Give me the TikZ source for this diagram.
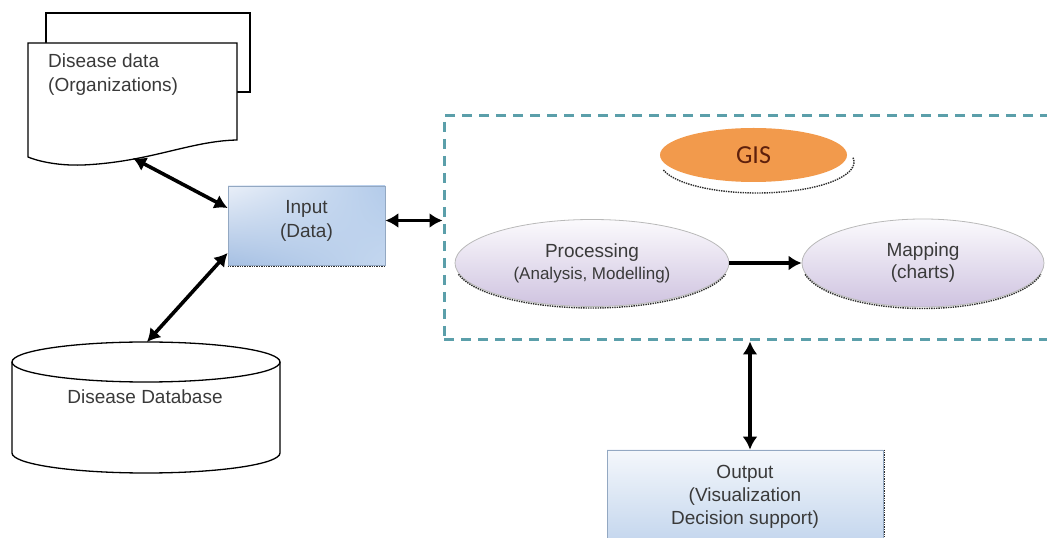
\documentclass[tikz,border=0pt]{standalone}
\usepackage{fontspec}
\setmainfont{Liberation Sans}
\newfontfamily\gisfont{Carlito}
\usetikzlibrary{arrows.meta,shapes.geometric,shadings}

\definecolor{txt}{HTML}{3A3A3A}
\definecolor{gisteal}{HTML}{5B9FAA}
\definecolor{gisorange}{HTML}{F29A4C}
\definecolor{gisbrown}{HTML}{5E200C}
\definecolor{boxedge}{HTML}{93A8C2}
\definecolor{ovaltop}{HTML}{FBFAFD}
\definecolor{ovalbot}{HTML}{CFC3E0}
\definecolor{inUL}{HTML}{E9EFF8}
\definecolor{inUR}{HTML}{B3CBEA}
\definecolor{inLL}{HTML}{A6C0E3}
\definecolor{inLR}{HTML}{C4D7EF}
\definecolor{outtop}{HTML}{F4F7FB}
\definecolor{outbot}{HTML}{C5D7EE}

\begin{document}
\begin{tikzpicture}[x=1pt,y=1pt,
  every node/.style={text=txt, font=\fontsize{19}{24}\selectfont, align=center},
  link/.style={line width=3.6pt, draw=black},
  twoway/.style={link, {Latex[length=13pt,width=15pt]}-{Latex[length=13pt,width=15pt]}},
  oneway/.style={link, -{Latex[length=13pt,width=15pt]}},
  outline/.style={draw=black, line width=1.3pt},
  oval/.style={ellipse, draw=gray!55, line width=0.8pt, top color=ovaltop,
    bottom color=ovalbot, inner sep=0pt, font=\fontsize{19}{22}\selectfont},
  edgeshade/.style={draw=gray!35!black, line width=1.4pt, densely dotted},
  inbox/.style={rectangle, draw=boxedge, line width=0.8pt, inner sep=0pt,
    upper left=inUL, upper right=inUR, lower left=inLL, lower right=inLR},
  outbox/.style={rectangle, draw=boxedge, line width=0.8pt, inner sep=0pt,
    top color=outtop, bottom color=outbot},
]
\useasboundingbox (0,0) rectangle (1047,538);

% stacked document sheets
\draw[outline, fill=white] (46,495) -- (46,525) -- (250,525) -- (250,446) -- (237,446);
\draw[outline, fill=white] (28,381) -- (28,495) -- (237,495) -- (237,398)
  .. controls (190,397) and (150,376) .. (83,373)
  .. controls (55,372) and (35,378) .. (28,381) -- cycle;
\node[anchor=north west, align=left, inner sep=0pt] (doc) at (48,484)
  {Disease data\\(Organizations)};
\coordinate (docpt) at (133,380);

% database cylinder
\draw[outline, fill=white] (12,176) -- (12,85)
  arc[start angle=180, end angle=360, x radius=134, y radius=20] -- (280,176);
\draw[outline, fill=white] (146,176) ellipse [x radius=134, y radius=20];
\node (db) at (145,141) {Disease Database};
\coordinate (dbtop) at (147,196);

% input box
\node[inbox, minimum width=157, minimum height=79] (input) at (306.5,312.5) {};
\draw[edgeshade] ([yshift=-1pt]input.south west) -- ([yshift=-1pt]input.south east);
\node (inputtxt) at (306.5,317) {Input\\(Data)};

% GIS frame
\node[draw=gisteal, line width=3pt, dash pattern=on 10pt off 7pt,
  minimum width=616, minimum height=224, inner sep=0pt] (gisbox) at (752,310) {};

% GIS badge
\draw[edgeshade] (757,376) ++(195:97 and 31)
  arc[start angle=195, end angle=369, x radius=97, y radius=31];
\node[ellipse, fill=gisorange, minimum width=187, minimum height=54, inner sep=0pt,
  text=gisbrown, font=\gisfont\fontsize{26}{30}\selectfont] (gis) at (753.5,383) {GIS};

% processing and mapping ovals
\node[oval, minimum width=274, minimum height=87] (proc) at (592,275)
  {Processing\\{\fontsize{17}{22}\selectfont (Analysis, Modelling)}};
\draw[edgeshade] (proc.center) ++(0,-1.5) ++(193:137 and 43.5)
  arc[start angle=193, end angle=347, x radius=137, y radius=43.5];
\node[oval, minimum width=242, minimum height=88] (map) at (923,275)
  {Mapping\\(charts)};
\draw[edgeshade] (map.center) ++(0,-1.5) ++(193:121 and 44)
  arc[start angle=193, end angle=347, x radius=121, y radius=44];

% output box
\node[outbox, minimum width=276, minimum height=90] (output) at (745,43) {};
\draw[edgeshade] ([xshift=1pt]output.north east) -- ([xshift=1pt]output.south east);
\node[font=\fontsize{19}{23}\selectfont] (outtxt) at (745,41)
  {Output\\(Visualization\\Decision support)};

% connectors
\coordinate (vx) at (750,0);
\draw[twoway] (docpt) -- ([yshift=17.5pt]input.west);
\draw[twoway] (dbtop) -- ([yshift=-27.5pt]input.west);
\draw[twoway] ([yshift=5pt]input.east) -- ([yshift=5pt]input.east -| gisbox.west);
\draw[oneway] (proc.east) -- (map.west);
\draw[twoway] (gisbox.south -| vx) -- (output.north -| vx);
\end{tikzpicture}
\end{document}
